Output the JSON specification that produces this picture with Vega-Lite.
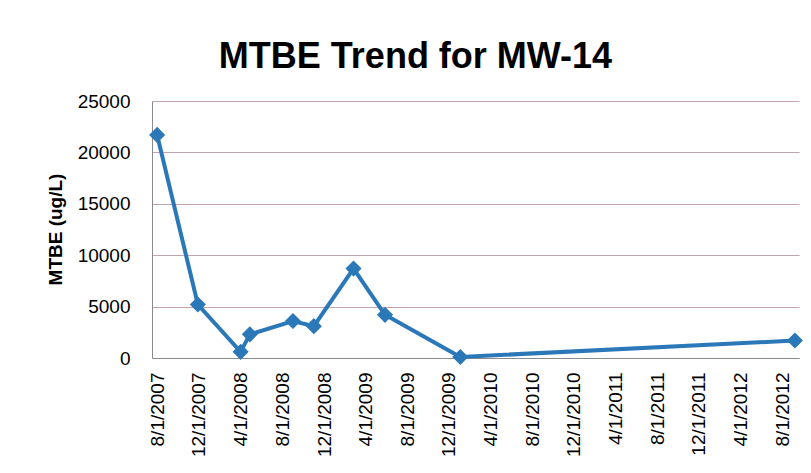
{
  "$schema": "https://vega.github.io/schema/vega-lite/v6.json",
  "autosize": "none",
  "width": 647,
  "height": 257,
  "padding": {"left": 152, "top": 101, "right": 12, "bottom": 115},
  "background": "white",
  "title": {
    "text": "MTBE Trend for MW-14",
    "font": "Liberation Sans",
    "fontSize": 36,
    "fontWeight": "bold",
    "color": "#000000",
    "anchor": "middle",
    "dx": -60,
    "offset": 16
  },
  "data": {
    "values": [
      {"date": "2007-08-01T00:00", "mtbe": 21700},
      {"date": "2007-11-28T00:00", "mtbe": 5200},
      {"date": "2008-04-01T00:00", "mtbe": 600},
      {"date": "2008-04-28T00:00", "mtbe": 2300},
      {"date": "2008-09-01T00:00", "mtbe": 3600},
      {"date": "2008-11-01T00:00", "mtbe": 3100},
      {"date": "2009-02-25T00:00", "mtbe": 8700},
      {"date": "2009-05-28T00:00", "mtbe": 4200},
      {"date": "2010-01-03T00:00", "mtbe": 100},
      {"date": "2012-09-07T00:00", "mtbe": 1700}
    ]
  },
  "encoding": {
    "x": {
      "field": "date",
      "type": "temporal",
      "scale": {"domain": [{"year": 2007, "month": 7, "date": 17}, {"year": 2012, "month": 9, "date": 19}]},
      "axis": {
        "title": null,
        "grid": false,
        "ticks": false,
        "domain": true,
        "domainColor": "#8a8a8a",
        "domainWidth": 1,
        "labelAngle": -90,
        "labelPadding": 14,
        "labelFont": "Liberation Sans",
        "labelFontSize": 19,
        "labelColor": "#000000",
        "labelOverlap": false,
        "labelFlush": false,
        "format": "%-m/%-d/%Y",
        "values": [
          {"year": 2007, "month": 8, "date": 1},
          {"year": 2007, "month": 12, "date": 1},
          {"year": 2008, "month": 4, "date": 1},
          {"year": 2008, "month": 8, "date": 1},
          {"year": 2008, "month": 12, "date": 1},
          {"year": 2009, "month": 4, "date": 1},
          {"year": 2009, "month": 8, "date": 1},
          {"year": 2009, "month": 12, "date": 1},
          {"year": 2010, "month": 4, "date": 1},
          {"year": 2010, "month": 8, "date": 1},
          {"year": 2010, "month": 12, "date": 1},
          {"year": 2011, "month": 4, "date": 1},
          {"year": 2011, "month": 8, "date": 1},
          {"year": 2011, "month": 12, "date": 1},
          {"year": 2012, "month": 4, "date": 1},
          {"year": 2012, "month": 8, "date": 1}
        ]
      }
    },
    "y": {
      "field": "mtbe",
      "type": "quantitative",
      "scale": {"domain": [0, 25000], "nice": false},
      "axis": {
        "title": "MTBE (ug/L)",
        "titleFont": "Liberation Sans",
        "titleFontSize": 19,
        "titleFontWeight": "bold",
        "titleColor": "#000000",
        "titleAngle": -90,
        "titleX": -97,
        "titleY": 128,
        "titleAlign": "center",
        "titleBaseline": "middle",
        "values": [0, 5000, 10000, 15000, 20000, 25000],
        "format": "d",
        "grid": true,
        "gridColor": "#c4a4ac",
        "gridWidth": 1,
        "ticks": false,
        "domain": true,
        "domainColor": "#8a8a8a",
        "labelPadding": 22,
        "labelFont": "Liberation Sans",
        "labelFontSize": 19,
        "labelColor": "#000000"
      }
    }
  },
  "layer": [
    {
      "mark": {"type": "line", "color": "#2b78b8", "strokeWidth": 4}
    },
    {
      "mark": {"type": "point", "shape": "diamond", "filled": true, "size": 260, "color": "#2b78b8", "opacity": 1}
    }
  ],
  "config": {"view": {"stroke": null}}
}
